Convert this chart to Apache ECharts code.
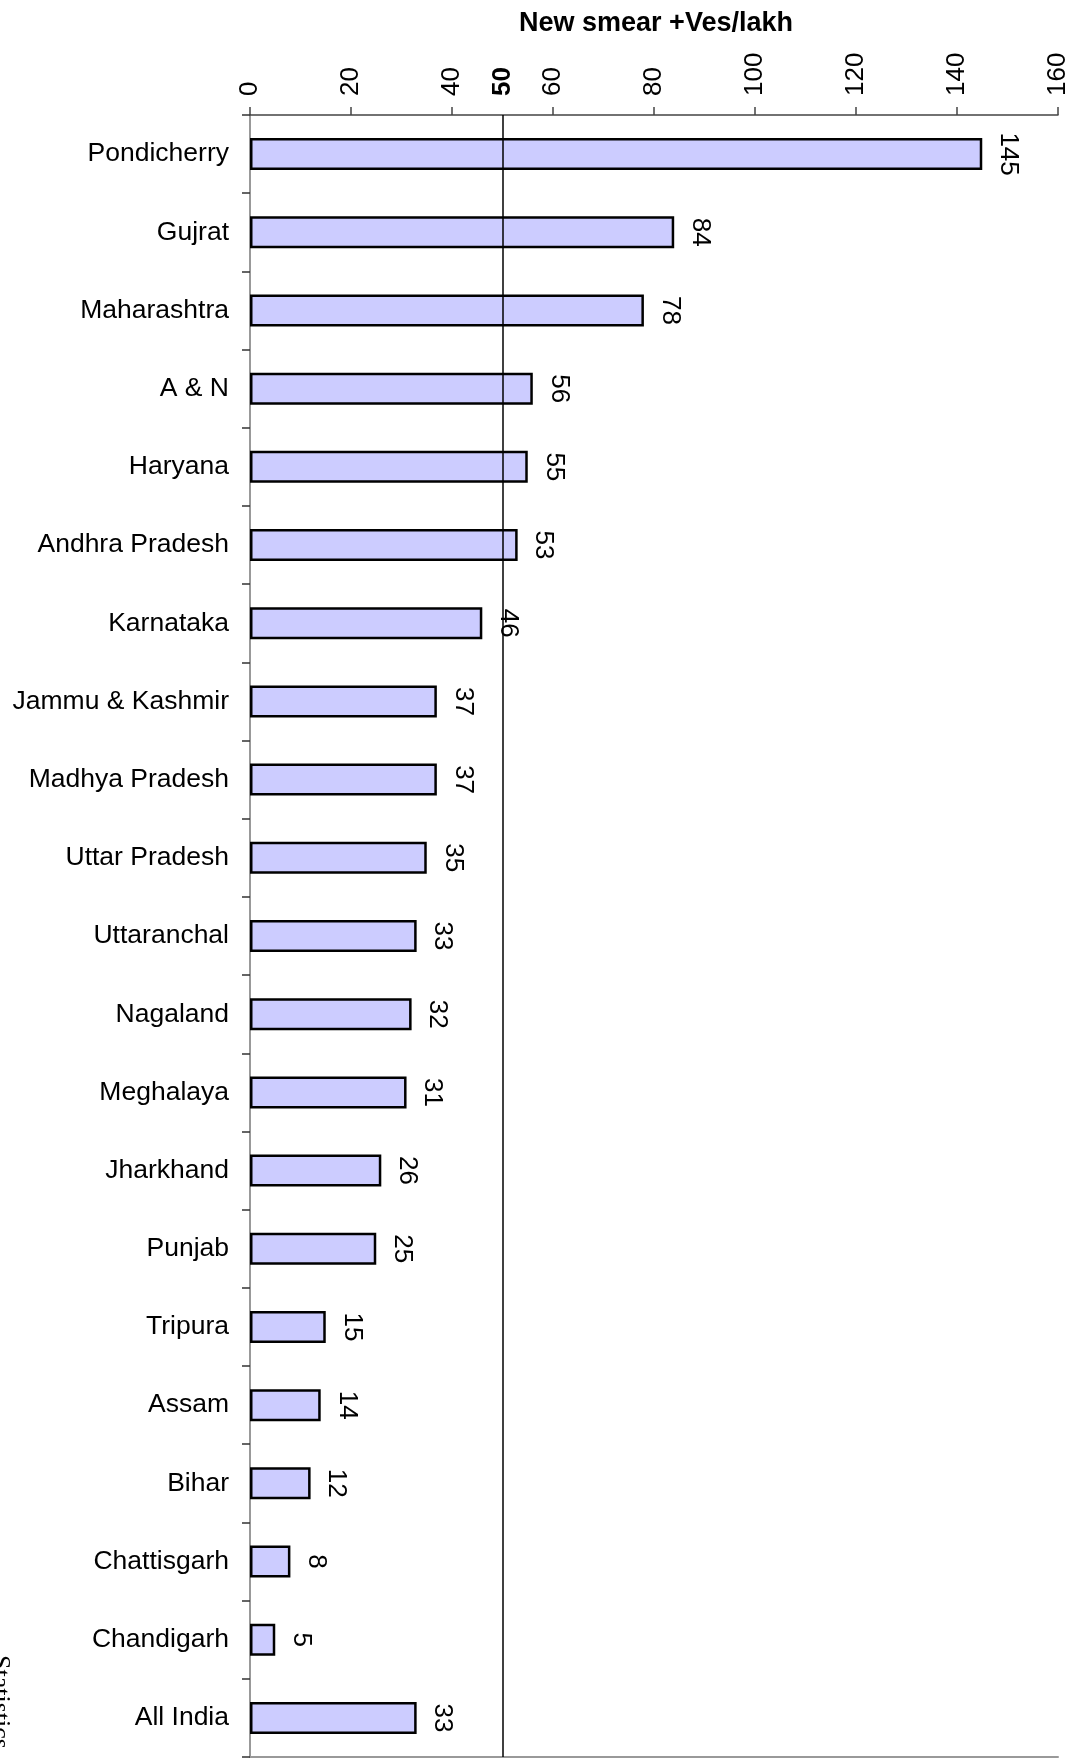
<!DOCTYPE html>
<html>
<head>
<meta charset="utf-8">
<title>New smear +Ves/lakh</title>
<script src="https://cdn.jsdelivr.net/npm/echarts@6/dist/echarts.min.js"></script>
<style>
  html, body { margin: 0; padding: 0; background: #fff; }
  #chart { width: 1078px; height: 1758px; }
</style>
</head>
<body>
<div id="chart"></div>
<script>
// States / UTs, top to bottom
const states = [
  'Pondicherry', 'Gujrat', 'Maharashtra', 'A & N', 'Haryana', 'Andhra Pradesh',
  'Karnataka', 'Jammu & Kashmir', 'Madhya Pradesh', 'Uttar Pradesh', 'Uttaranchal',
  'Nagaland', 'Meghalaya', 'Jharkhand', 'Punjab', 'Tripura', 'Assam', 'Bihar',
  'Chattisgarh', 'Chandigarh', 'All India'
];

// New smear positive cases per lakh population
const smearPositivePerLakh = [
  145, 84, 78, 56, 55, 53,
  46, 37, 37, 35, 33,
  32, 31, 26, 25, 15, 14, 12,
  8, 5, 33
];

// Value axis
const axisMin = 0;
const axisMax = 160;
const axisStep = 20;
const tickValues = [0, 20, 40, 60, 80, 100, 120, 140, 160];
const tickLabelValues = [0, 20, 40, 50, 60, 80, 100, 120, 140, 160];
const referenceLevel = 50;

const FONT = '"Liberation Sans", Arial, Helvetica, sans-serif';

const chart = echarts.init(document.getElementById('chart'), null, { renderer: 'canvas' });

chart.setOption({
  backgroundColor: '#ffffff',
  animation: false,
  title: {
    text: 'New smear +Ves/lakh',
    left: 651,
    top: 5,
    textAlign: 'center',
    textStyle: { fontFamily: FONT, fontSize: 27, fontWeight: 'bold', color: '#000' }
  },
  grid: { left: 250, right: 20, top: 115, bottom: 1, containLabel: false },
  xAxis: [
    {
      type: 'value',
      position: 'top',
      min: axisMin,
      max: axisMax,
      interval: axisStep,
      splitLine: { show: false },
      axisLine: { show: true, lineStyle: { color: '#444', width: 1.5 } },
      axisTick: {
        show: true, inside: false, length: 8,
        customValues: tickValues,
        lineStyle: { color: '#444', width: 1.5 }
      },
      axisLabel: {
        customValues: tickLabelValues,
        rotate: -90,
        margin: 19,
        fontFamily: FONT,
        fontSize: 26,
        color: '#000',
        formatter: function (v) {
          return v === referenceLevel ? '{ref|' + v + '}' : String(v);
        },
        rich: {
          ref: { fontFamily: FONT, fontSize: 26, fontWeight: 'bold', color: '#000' }
        }
      }
    },
    {
      type: 'value',
      position: 'bottom',
      min: axisMin,
      max: axisMax,
      splitLine: { show: false },
      axisLine: { show: true, lineStyle: { color: '#999', width: 2 } },
      axisTick: { show: false },
      axisLabel: { show: false }
    }
  ],
  yAxis: [
    {
      type: 'category',
      data: states,
      inverse: true,
      position: 'left',
      axisLine: { show: true, lineStyle: { color: '#333', width: 2 } },
      axisTick: { show: true, inside: false, length: 8, alignWithLabel: false,
                  lineStyle: { color: '#333', width: 1.5 } },
      axisLabel: { margin: 21, fontFamily: FONT, fontSize: 26.5, color: '#000' },
      splitLine: { show: false }
    },
    {
      type: 'category',
      data: states,
      inverse: true,
      position: 'right',
      axisLine: { show: true, lineStyle: { color: '#999', width: 2 } },
      axisTick: { show: false },
      axisLabel: { show: false },
      splitLine: { show: false }
    }
  ],
  series: [
    {
      type: 'bar',
      data: smearPositivePerLakh,
      xAxisIndex: 0,
      yAxisIndex: 0,
      barWidth: 32,
      itemStyle: { color: '#CCCCFF', borderColor: '#000', borderWidth: 2.5 },
      label: {
        show: true,
        position: 'right',
        distance: 13,
        rotate: -90,
        align: 'center',
        verticalAlign: 'bottom',
        fontFamily: FONT,
        fontSize: 26,
        color: '#000'
      },
      markLine: {
        silent: true,
        symbol: 'none',
        label: { show: false },
        lineStyle: { color: '#000', width: 1.5, type: 'solid' },
        data: [{ xAxis: referenceLevel }]
      }
    }
  ],
  graphic: [
    {
      type: 'text',
      x: -13,
      y: 1655,
      rotation: -Math.PI / 2,
      style: {
        text: 'Statistics',
        font: '26px "Liberation Serif", "Times New Roman", serif',
        fill: '#000',
        align: 'left',
        verticalAlign: 'bottom'
      }
    }
  ]
});
</script>
</body>
</html>
